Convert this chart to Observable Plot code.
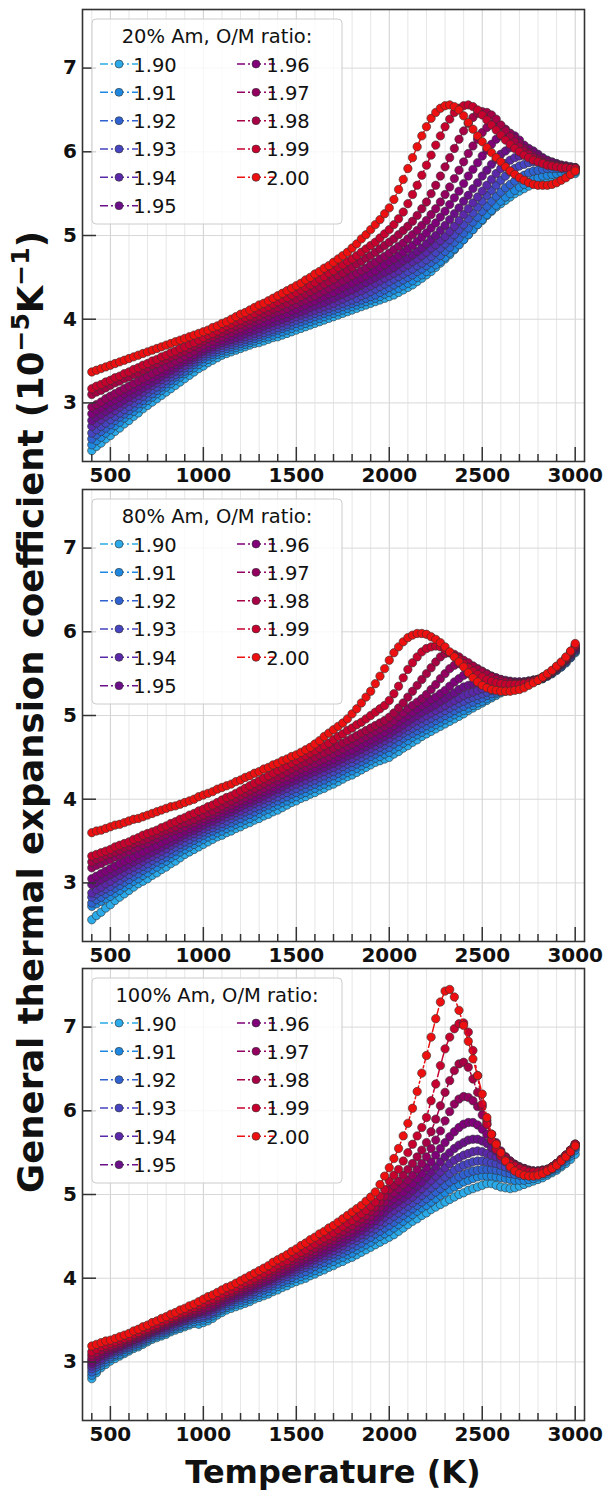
<!DOCTYPE html>
<html>
<head>
<meta charset="utf-8">
<script src="https://cdn.jsdelivr.net/npm/d3@7"></script>
<script src="https://cdn.jsdelivr.net/npm/@observablehq/plot@0.6"></script>
<style>
  html, body { margin: 0; padding: 0; background: #fff; }
  #figure { position: relative; width: 606px; height: 1492px; overflow: hidden; font-family: "DejaVu Sans", sans-serif; }
  #figure > svg { position: absolute; left: 0; }
</style>
</head>
<body>
<div id="figure"></div>
<script>
// Temperature grid (K)
const temperatures = [
  400,425,450,475,500,525,550,575,600,625,650,675,700,725,750,775,800,825,850,875,
  900,925,950,975,1000,1025,1050,1075,1100,1125,1150,1175,1200,1225,1250,1275,1300,1325,1350,1375,
  1400,1425,1450,1475,1500,1525,1550,1575,1600,1625,1650,1675,1700,1725,1750,1775,1800,1825,1850,1875,
  1900,1925,1950,1975,2000,2025,2050,2075,2100,2125,2150,2175,2200,2225,2250,2275,2300,2325,2350,2375,
  2400,2425,2450,2475,2500,2525,2550,2575,2600,2625,2650,2675,2700,2725,2750,2775,2800,2825,2850,2875,
  2900,2925,2950,2975,3000
];

const ratios = ["1.90","1.91","1.92","1.93","1.94","1.95","1.96","1.97","1.98","1.99","2.00"];
const ratioColors = ["#2aaae8","#1e88e0","#2f62d0","#4644c0","#5a28a8","#6b0f88","#80007a","#930060","#a80045","#c8002e","#ee1010"];
const panelTitles = ["20% Am, O/M ratio:", "80% Am, O/M ratio:", "100% Am, O/M ratio:"];

const xMajorTicks = [500,1000,1500,2000,2500,3000];
const xMinorTicks = [400,600,700,800,900,1100,1200,1300,1400,1600,1700,1800,1900,2100,2200,2300,2400,2600,2700,2800,2900];
const yTicks = [3,4,5,6,7];

// Thermal expansion coefficient (1e-5 / K), 20% Am
const am20_190 = [2.43,2.48,2.52,2.57,2.61,2.66,2.70,2.75,2.79,2.84,2.88,2.93,2.97,3.01,3.05,3.09,3.13,3.17,3.21,3.25,
  3.29,3.33,3.37,3.41,3.44,3.48,3.51,3.54,3.57,3.59,3.61,3.63,3.65,3.67,3.69,3.71,3.72,3.74,3.76,3.78,
  3.79,3.81,3.83,3.85,3.87,3.89,3.91,3.93,3.95,3.97,3.99,4.01,4.03,4.05,4.07,4.09,4.11,4.13,4.15,4.17,
  4.19,4.21,4.23,4.25,4.27,4.29,4.32,4.35,4.38,4.41,4.45,4.49,4.53,4.57,4.62,4.67,4.72,4.77,4.83,4.89,
  4.95,5.01,5.07,5.13,5.18,5.24,5.29,5.34,5.38,5.42,5.46,5.50,5.53,5.56,5.59,5.62,5.64,5.66,5.68,5.69,
  5.70,5.71,5.72,5.73,5.74];
const am20_191 = [2.50,2.55,2.59,2.64,2.68,2.73,2.77,2.82,2.86,2.90,2.94,2.99,3.03,3.07,3.11,3.15,3.19,3.23,3.27,3.31,
  3.35,3.39,3.42,3.46,3.49,3.52,3.55,3.58,3.60,3.62,3.64,3.66,3.68,3.70,3.72,3.74,3.76,3.78,3.79,3.81,
  3.83,3.85,3.87,3.89,3.91,3.93,3.95,3.97,3.99,4.01,4.03,4.05,4.07,4.09,4.11,4.13,4.15,4.17,4.19,4.21,
  4.23,4.25,4.27,4.30,4.32,4.35,4.37,4.40,4.43,4.46,4.50,4.53,4.57,4.61,4.65,4.69,4.74,4.79,4.84,4.89,
  4.95,5.01,5.07,5.13,5.19,5.25,5.30,5.36,5.41,5.46,5.50,5.54,5.58,5.61,5.64,5.67,5.69,5.71,5.72,5.73,
  5.74,5.75,5.75,5.76,5.76];
const am20_192 = [2.57,2.62,2.66,2.70,2.74,2.79,2.83,2.87,2.91,2.95,2.99,3.03,3.07,3.11,3.15,3.19,3.23,3.27,3.31,3.35,
  3.38,3.42,3.46,3.50,3.53,3.56,3.58,3.61,3.63,3.65,3.67,3.69,3.71,3.73,3.75,3.77,3.79,3.81,3.83,3.85,
  3.87,3.89,3.91,3.93,3.95,3.97,3.99,4.01,4.03,4.05,4.07,4.09,4.11,4.13,4.15,4.17,4.19,4.21,4.23,4.25,
  4.27,4.29,4.32,4.35,4.38,4.41,4.44,4.47,4.50,4.53,4.57,4.60,4.64,4.68,4.72,4.76,4.81,4.86,4.92,4.97,
  5.03,5.09,5.16,5.22,5.29,5.35,5.41,5.47,5.52,5.57,5.61,5.65,5.69,5.72,5.75,5.77,5.78,5.79,5.80,5.80,
  5.80,5.80,5.79,5.79,5.78];
const am20_193 = [2.64,2.68,2.72,2.76,2.80,2.84,2.88,2.92,2.96,3.00,3.04,3.08,3.12,3.16,3.19,3.23,3.27,3.31,3.34,3.38,
  3.42,3.46,3.49,3.53,3.56,3.59,3.61,3.64,3.66,3.68,3.70,3.72,3.74,3.76,3.78,3.80,3.82,3.84,3.86,3.88,
  3.90,3.92,3.94,3.97,3.99,4.01,4.03,4.05,4.07,4.09,4.11,4.13,4.15,4.17,4.19,4.21,4.23,4.25,4.28,4.30,
  4.33,4.36,4.39,4.42,4.45,4.48,4.51,4.54,4.57,4.60,4.64,4.67,4.71,4.75,4.80,4.85,4.90,4.95,5.01,5.07,
  5.13,5.20,5.27,5.34,5.41,5.48,5.54,5.60,5.66,5.71,5.76,5.80,5.83,5.85,5.87,5.88,5.88,5.87,5.86,5.85,
  5.84,5.83,5.81,5.80,5.79];
const am20_194 = [2.72,2.76,2.80,2.84,2.87,2.91,2.95,2.99,3.02,3.06,3.09,3.13,3.17,3.21,3.24,3.28,3.31,3.35,3.38,3.42,
  3.45,3.49,3.52,3.56,3.59,3.62,3.64,3.67,3.69,3.71,3.73,3.75,3.77,3.79,3.81,3.83,3.85,3.88,3.90,3.92,
  3.94,3.96,3.98,4.01,4.03,4.05,4.07,4.09,4.11,4.13,4.15,4.17,4.19,4.22,4.24,4.27,4.29,4.32,4.34,4.37,
  4.40,4.43,4.46,4.49,4.52,4.55,4.58,4.62,4.65,4.69,4.72,4.76,4.80,4.85,4.89,4.94,4.99,5.05,5.11,5.18,
  5.25,5.32,5.39,5.46,5.53,5.60,5.67,5.74,5.80,5.86,5.90,5.93,5.95,5.96,5.96,5.95,5.94,5.92,5.89,5.87,
  5.85,5.83,5.82,5.81,5.80];
const am20_195 = [2.79,2.83,2.86,2.90,2.93,2.97,3.00,3.04,3.07,3.11,3.14,3.18,3.21,3.25,3.28,3.32,3.35,3.39,3.42,3.46,
  3.49,3.52,3.55,3.59,3.62,3.65,3.67,3.70,3.72,3.74,3.76,3.78,3.80,3.83,3.85,3.87,3.89,3.92,3.94,3.96,
  3.98,4.00,4.02,4.05,4.07,4.09,4.11,4.14,4.16,4.18,4.20,4.23,4.25,4.28,4.30,4.33,4.35,4.38,4.41,4.44,
  4.47,4.50,4.53,4.56,4.59,4.62,4.66,4.70,4.73,4.77,4.81,4.85,4.90,4.95,5.00,5.06,5.12,5.19,5.26,5.33,
  5.41,5.48,5.56,5.63,5.71,5.78,5.85,5.91,5.97,6.01,6.05,6.07,6.08,6.07,6.04,6.01,5.97,5.93,5.90,5.88,
  5.86,5.84,5.83,5.82,5.81];
const am20_196 = [2.87,2.91,2.94,2.98,3.01,3.04,3.07,3.11,3.14,3.17,3.20,3.24,3.27,3.30,3.33,3.36,3.39,3.43,3.46,3.49,
  3.52,3.55,3.58,3.62,3.65,3.68,3.70,3.73,3.75,3.78,3.80,3.83,3.85,3.87,3.89,3.92,3.94,3.96,3.98,4.01,
  4.03,4.05,4.07,4.10,4.12,4.15,4.17,4.20,4.22,4.25,4.27,4.30,4.32,4.35,4.38,4.41,4.43,4.46,4.49,4.52,
  4.55,4.58,4.62,4.65,4.69,4.72,4.76,4.80,4.84,4.88,4.93,4.98,5.03,5.09,5.15,5.22,5.29,5.37,5.45,5.53,
  5.62,5.71,5.79,5.87,5.95,6.02,6.09,6.15,6.19,6.21,6.22,6.19,6.14,6.08,6.03,5.99,5.95,5.92,5.89,5.87,
  5.85,5.84,5.83,5.82,5.81];
const am20_197 = [2.95,2.98,3.01,3.05,3.08,3.11,3.14,3.17,3.20,3.23,3.26,3.29,3.32,3.35,3.38,3.41,3.44,3.47,3.50,3.53,
  3.56,3.59,3.62,3.66,3.69,3.72,3.74,3.77,3.79,3.82,3.84,3.87,3.89,3.92,3.94,3.97,3.99,4.02,4.04,4.07,
  4.09,4.11,4.13,4.16,4.18,4.21,4.23,4.26,4.28,4.31,4.34,4.37,4.40,4.43,4.46,4.49,4.52,4.55,4.58,4.61,
  4.65,4.68,4.72,4.75,4.79,4.83,4.87,4.91,4.96,5.01,5.06,5.12,5.18,5.25,5.32,5.40,5.49,5.58,5.68,5.78,
  5.88,5.98,6.07,6.15,6.23,6.29,6.33,6.33,6.31,6.27,6.22,6.16,6.10,6.04,5.99,5.95,5.92,5.89,5.87,5.85,
  5.84,5.83,5.82,5.81,5.81];
const am20_198 = [3.10,3.13,3.15,3.18,3.21,3.24,3.26,3.29,3.31,3.34,3.36,3.39,3.42,3.45,3.47,3.50,3.52,3.55,3.57,3.60,
  3.62,3.65,3.68,3.71,3.74,3.77,3.79,3.82,3.84,3.87,3.89,3.92,3.94,3.97,3.99,4.02,4.04,4.07,4.09,4.12,
  4.14,4.17,4.19,4.22,4.24,4.27,4.30,4.33,4.36,4.39,4.42,4.45,4.48,4.52,4.55,4.59,4.62,4.66,4.69,4.73,
  4.76,4.80,4.84,4.88,4.92,4.96,5.01,5.06,5.11,5.17,5.24,5.32,5.40,5.50,5.60,5.71,5.82,5.93,6.04,6.15,
  6.25,6.34,6.41,6.46,6.48,6.47,6.44,6.39,6.32,6.25,6.18,6.12,6.06,6.01,5.97,5.93,5.90,5.87,5.85,5.84,
  5.83,5.82,5.81,5.80,5.80];
const am20_199 = [3.17,3.20,3.22,3.25,3.27,3.30,3.32,3.35,3.37,3.40,3.42,3.45,3.47,3.50,3.52,3.55,3.57,3.60,3.62,3.65,
  3.67,3.70,3.72,3.75,3.78,3.81,3.83,3.86,3.89,3.92,3.94,3.97,3.99,4.02,4.04,4.07,4.10,4.13,4.15,4.18,
  4.21,4.24,4.26,4.29,4.32,4.35,4.38,4.41,4.44,4.48,4.51,4.55,4.58,4.62,4.65,4.69,4.72,4.76,4.80,4.84,
  4.88,4.92,4.97,5.02,5.07,5.13,5.20,5.28,5.38,5.49,5.60,5.72,5.84,5.96,6.08,6.19,6.30,6.39,6.47,6.52,
  6.55,6.56,6.54,6.50,6.44,6.38,6.32,6.26,6.20,6.14,6.09,6.04,6.00,5.96,5.93,5.90,5.88,5.86,5.84,5.83,
  5.82,5.81,5.81,5.80,5.80];
const am20_200 = [3.37,3.39,3.41,3.43,3.45,3.47,3.49,3.51,3.53,3.55,3.57,3.59,3.61,3.63,3.65,3.67,3.69,3.71,3.73,3.75,
  3.77,3.79,3.81,3.83,3.85,3.87,3.90,3.92,3.95,3.97,4.00,4.03,4.06,4.08,4.11,4.14,4.17,4.19,4.22,4.25,
  4.28,4.31,4.34,4.37,4.40,4.43,4.47,4.50,4.54,4.57,4.61,4.64,4.68,4.72,4.76,4.80,4.85,4.90,4.96,5.01,
  5.07,5.13,5.19,5.26,5.33,5.43,5.55,5.67,5.80,5.93,6.06,6.19,6.30,6.40,6.47,6.52,6.55,6.56,6.54,6.50,
  6.43,6.35,6.27,6.19,6.12,6.05,5.99,5.93,5.88,5.82,5.77,5.73,5.69,5.66,5.63,5.61,5.60,5.60,5.60,5.61,
  5.63,5.66,5.69,5.73,5.77];

// 80% Am
const am80_190 = [2.56,2.61,2.65,2.70,2.74,2.79,2.83,2.87,2.91,2.95,2.99,3.02,3.05,3.09,3.12,3.16,3.19,3.23,3.26,3.30,
  3.34,3.37,3.40,3.43,3.46,3.49,3.52,3.55,3.57,3.60,3.62,3.65,3.67,3.70,3.72,3.75,3.77,3.80,3.82,3.85,
  3.87,3.90,3.93,3.96,3.98,4.01,4.03,4.06,4.08,4.11,4.13,4.16,4.18,4.21,4.24,4.27,4.29,4.32,4.35,4.38,
  4.41,4.44,4.46,4.48,4.50,4.54,4.57,4.61,4.64,4.68,4.71,4.75,4.78,4.81,4.84,4.87,4.90,4.93,4.96,4.99,
  5.02,5.06,5.09,5.12,5.15,5.18,5.21,5.24,5.27,5.29,5.31,5.33,5.35,5.37,5.38,5.40,5.42,5.44,5.47,5.50,
  5.54,5.58,5.63,5.69,5.75];
const am80_191 = [2.72,2.75,2.78,2.81,2.84,2.88,2.91,2.95,2.98,3.02,3.05,3.09,3.12,3.16,3.19,3.23,3.26,3.30,3.33,3.37,
  3.40,3.43,3.46,3.49,3.52,3.55,3.57,3.60,3.62,3.65,3.67,3.70,3.72,3.75,3.77,3.80,3.83,3.86,3.88,3.91,
  3.93,3.96,3.98,4.01,4.03,4.06,4.08,4.11,4.13,4.16,4.18,4.21,4.23,4.26,4.29,4.32,4.34,4.37,4.40,4.43,
  4.46,4.49,4.51,4.54,4.56,4.60,4.63,4.67,4.70,4.74,4.77,4.80,4.83,4.86,4.89,4.92,4.95,4.98,5.01,5.04,
  5.06,5.09,5.12,5.15,5.17,5.20,5.23,5.26,5.28,5.30,5.32,5.34,5.36,5.38,5.39,5.41,5.42,5.44,5.47,5.50,
  5.54,5.58,5.63,5.69,5.76];
const am80_192 = [2.76,2.80,2.83,2.87,2.90,2.94,2.97,3.01,3.04,3.08,3.11,3.15,3.18,3.22,3.25,3.28,3.31,3.35,3.38,3.42,
  3.45,3.48,3.51,3.54,3.57,3.60,3.62,3.65,3.67,3.70,3.72,3.75,3.77,3.80,3.82,3.85,3.88,3.91,3.93,3.96,
  3.98,4.01,4.03,4.06,4.08,4.11,4.13,4.16,4.18,4.21,4.23,4.26,4.28,4.31,4.34,4.37,4.39,4.42,4.45,4.48,
  4.51,4.54,4.57,4.60,4.62,4.66,4.69,4.73,4.76,4.79,4.82,4.85,4.88,4.91,4.94,4.97,5.00,5.03,5.06,5.09,
  5.11,5.14,5.16,5.19,5.21,5.24,5.26,5.28,5.30,5.32,5.34,5.36,5.37,5.39,5.40,5.42,5.43,5.45,5.48,5.51,
  5.55,5.59,5.64,5.70,5.77];
const am80_193 = [2.83,2.87,2.90,2.93,2.96,3.00,3.03,3.07,3.10,3.14,3.17,3.20,3.23,3.27,3.30,3.33,3.36,3.40,3.43,3.46,
  3.49,3.52,3.55,3.58,3.61,3.64,3.66,3.69,3.71,3.74,3.77,3.80,3.82,3.85,3.87,3.90,3.92,3.95,3.98,4.01,
  4.03,4.06,4.08,4.11,4.13,4.16,4.18,4.21,4.23,4.26,4.28,4.31,4.33,4.36,4.39,4.42,4.44,4.47,4.50,4.53,
  4.56,4.59,4.62,4.65,4.68,4.72,4.75,4.79,4.82,4.85,4.88,4.91,4.94,4.97,5.00,5.03,5.06,5.09,5.12,5.15,
  5.17,5.20,5.22,5.24,5.26,5.28,5.30,5.32,5.33,5.35,5.36,5.37,5.38,5.39,5.40,5.42,5.43,5.45,5.48,5.51,
  5.55,5.60,5.65,5.71,5.78];
const am80_194 = [2.88,2.92,2.95,2.99,3.02,3.06,3.09,3.13,3.16,3.19,3.22,3.26,3.29,3.32,3.35,3.38,3.41,3.45,3.48,3.51,
  3.54,3.57,3.59,3.62,3.65,3.68,3.70,3.73,3.76,3.79,3.81,3.84,3.86,3.89,3.92,3.95,3.97,4.00,4.02,4.05,
  4.08,4.11,4.13,4.16,4.18,4.21,4.23,4.26,4.28,4.31,4.33,4.36,4.38,4.41,4.44,4.47,4.49,4.52,4.55,4.58,
  4.61,4.64,4.67,4.70,4.73,4.77,4.80,4.84,4.87,4.91,4.94,4.97,5.00,5.03,5.06,5.09,5.12,5.15,5.18,5.21,
  5.24,5.26,5.28,5.30,5.32,5.34,5.35,5.36,5.36,5.37,5.38,5.39,5.39,5.40,5.41,5.42,5.43,5.45,5.48,5.52,
  5.56,5.61,5.66,5.72,5.79];
const am80_195 = [2.98,3.01,3.04,3.07,3.10,3.13,3.16,3.19,3.22,3.25,3.28,3.31,3.34,3.37,3.40,3.43,3.46,3.49,3.52,3.55,
  3.58,3.61,3.63,3.66,3.69,3.72,3.74,3.77,3.80,3.83,3.85,3.88,3.91,3.94,3.96,3.99,4.01,4.04,4.07,4.10,
  4.12,4.15,4.18,4.21,4.23,4.26,4.28,4.31,4.33,4.36,4.38,4.41,4.43,4.46,4.49,4.52,4.54,4.57,4.60,4.63,
  4.66,4.69,4.72,4.75,4.78,4.82,4.85,4.89,4.93,4.97,5.00,5.04,5.07,5.10,5.13,5.17,5.20,5.24,5.27,5.31,
  5.34,5.36,5.38,5.39,5.40,5.40,5.40,5.40,5.40,5.40,5.40,5.40,5.40,5.40,5.41,5.42,5.43,5.45,5.48,5.52,
  5.56,5.61,5.66,5.73,5.80];
const am80_196 = [3.05,3.08,3.11,3.14,3.17,3.20,3.23,3.26,3.28,3.31,3.34,3.37,3.40,3.43,3.45,3.48,3.51,3.54,3.56,3.59,
  3.62,3.65,3.67,3.70,3.73,3.76,3.78,3.81,3.84,3.87,3.89,3.92,3.95,3.98,4.00,4.03,4.06,4.09,4.11,4.14,
  4.17,4.20,4.22,4.25,4.28,4.31,4.33,4.36,4.38,4.41,4.43,4.46,4.48,4.51,4.54,4.57,4.59,4.62,4.65,4.68,
  4.71,4.74,4.77,4.80,4.84,4.88,4.92,4.96,5.00,5.04,5.08,5.12,5.15,5.19,5.22,5.26,5.30,5.35,5.40,5.44,
  5.48,5.50,5.51,5.51,5.50,5.49,5.47,5.45,5.43,5.42,5.41,5.40,5.40,5.40,5.41,5.42,5.43,5.45,5.48,5.52,
  5.57,5.62,5.67,5.74,5.81];
const am80_197 = [3.18,3.21,3.23,3.26,3.28,3.31,3.33,3.36,3.38,3.41,3.43,3.46,3.48,3.51,3.53,3.56,3.58,3.61,3.63,3.65,
  3.67,3.70,3.72,3.75,3.77,3.80,3.82,3.85,3.88,3.91,3.93,3.96,3.99,4.02,4.05,4.08,4.10,4.13,4.16,4.19,
  4.22,4.25,4.27,4.30,4.33,4.36,4.38,4.41,4.43,4.46,4.48,4.51,4.54,4.57,4.60,4.63,4.66,4.69,4.72,4.75,
  4.78,4.81,4.84,4.87,4.90,4.94,4.99,5.03,5.08,5.12,5.16,5.20,5.25,5.31,5.37,5.44,5.50,5.56,5.60,5.62,
  5.62,5.61,5.59,5.56,5.53,5.50,5.47,5.45,5.43,5.41,5.40,5.39,5.39,5.39,5.40,5.41,5.43,5.45,5.48,5.52,
  5.57,5.62,5.67,5.74,5.82];
const am80_198 = [3.25,3.28,3.30,3.33,3.35,3.37,3.39,3.42,3.44,3.47,3.49,3.51,3.53,3.56,3.58,3.61,3.63,3.65,3.67,3.70,
  3.72,3.74,3.76,3.79,3.81,3.84,3.86,3.89,3.92,3.95,3.98,4.01,4.04,4.07,4.10,4.13,4.16,4.19,4.22,4.25,
  4.27,4.30,4.33,4.36,4.39,4.42,4.44,4.47,4.50,4.53,4.55,4.58,4.61,4.64,4.67,4.70,4.73,4.76,4.79,4.82,
  4.85,4.88,4.91,4.94,4.98,5.03,5.09,5.15,5.22,5.29,5.36,5.43,5.50,5.57,5.64,5.70,5.74,5.75,5.73,5.70,
  5.66,5.63,5.59,5.55,5.52,5.49,5.46,5.43,5.41,5.40,5.39,5.38,5.38,5.39,5.40,5.41,5.43,5.46,5.49,5.53,
  5.58,5.63,5.68,5.75,5.83];
const am80_199 = [3.32,3.34,3.36,3.38,3.40,3.43,3.45,3.47,3.49,3.52,3.54,3.57,3.59,3.61,3.63,3.66,3.68,3.71,3.73,3.76,
  3.78,3.81,3.83,3.86,3.88,3.91,3.93,3.96,3.99,4.02,4.04,4.07,4.10,4.13,4.16,4.19,4.22,4.25,4.28,4.31,
  4.34,4.37,4.40,4.43,4.46,4.49,4.52,4.55,4.58,4.61,4.64,4.67,4.71,4.75,4.78,4.82,4.85,4.89,4.92,4.96,
  5.00,5.04,5.08,5.12,5.18,5.26,5.35,5.45,5.55,5.63,5.70,5.76,5.80,5.82,5.83,5.82,5.79,5.75,5.71,5.67,
  5.62,5.57,5.53,5.49,5.46,5.43,5.41,5.39,5.38,5.37,5.37,5.37,5.37,5.38,5.39,5.41,5.43,5.46,5.49,5.53,
  5.58,5.63,5.69,5.76,5.84];
const am80_200 = [3.60,3.62,3.63,3.65,3.67,3.69,3.70,3.72,3.74,3.76,3.77,3.79,3.81,3.83,3.85,3.87,3.89,3.91,3.92,3.94,
  3.96,3.98,4.00,4.03,4.05,4.07,4.09,4.12,4.14,4.16,4.18,4.21,4.23,4.26,4.28,4.31,4.33,4.36,4.38,4.41,
  4.43,4.46,4.48,4.51,4.53,4.56,4.59,4.62,4.66,4.70,4.75,4.79,4.83,4.87,4.91,4.96,5.02,5.08,5.15,5.22,
  5.29,5.38,5.47,5.56,5.66,5.75,5.82,5.88,5.93,5.96,5.98,5.98,5.97,5.94,5.91,5.87,5.82,5.76,5.70,5.64,
  5.58,5.51,5.45,5.40,5.36,5.33,5.31,5.30,5.29,5.29,5.29,5.30,5.31,5.33,5.36,5.39,5.42,5.46,5.50,5.54,
  5.59,5.64,5.70,5.77,5.86];

// 100% Am
const am100_190 = [2.80,2.87,2.93,2.97,3.01,3.04,3.07,3.10,3.13,3.16,3.18,3.21,3.24,3.27,3.29,3.31,3.33,3.36,3.38,3.40,
  3.42,3.44,3.46,3.45,3.47,3.49,3.52,3.56,3.59,3.62,3.64,3.66,3.68,3.70,3.72,3.75,3.77,3.79,3.81,3.84,
  3.86,3.89,3.91,3.94,3.96,3.98,4.00,4.03,4.05,4.08,4.10,4.13,4.15,4.18,4.20,4.23,4.25,4.28,4.31,4.34,
  4.37,4.40,4.43,4.46,4.49,4.52,4.56,4.60,4.64,4.68,4.71,4.75,4.78,4.82,4.85,4.88,4.91,4.94,4.97,5.00,
  5.02,5.05,5.07,5.09,5.11,5.13,5.13,5.11,5.09,5.08,5.07,5.08,5.10,5.12,5.14,5.16,5.18,5.20,5.23,5.26,
  5.29,5.33,5.37,5.42,5.48];
const am100_191 = [2.84,2.90,2.96,3.00,3.04,3.07,3.09,3.12,3.15,3.18,3.20,3.23,3.26,3.29,3.31,3.33,3.35,3.38,3.40,3.42,
  3.44,3.46,3.48,3.49,3.50,3.52,3.55,3.59,3.62,3.65,3.67,3.69,3.71,3.73,3.75,3.78,3.80,3.82,3.84,3.87,
  3.90,3.93,3.95,3.98,4.00,4.02,4.04,4.07,4.09,4.12,4.15,4.18,4.20,4.23,4.25,4.28,4.30,4.34,4.37,4.40,
  4.43,4.47,4.50,4.53,4.56,4.60,4.64,4.68,4.72,4.76,4.80,4.84,4.87,4.91,4.95,4.99,5.02,5.06,5.09,5.12,
  5.15,5.17,5.19,5.21,5.22,5.22,5.22,5.21,5.20,5.19,5.18,5.17,5.17,5.17,5.18,5.19,5.21,5.23,5.25,5.28,
  5.31,5.35,5.40,5.46,5.53];
const am100_192 = [2.88,2.94,2.99,3.03,3.06,3.09,3.12,3.15,3.17,3.20,3.22,3.25,3.28,3.31,3.33,3.35,3.37,3.40,3.42,3.44,
  3.46,3.49,3.51,3.52,3.53,3.55,3.58,3.61,3.64,3.67,3.69,3.72,3.74,3.76,3.78,3.81,3.83,3.86,3.88,3.91,
  3.93,3.96,3.98,4.01,4.04,4.06,4.08,4.11,4.14,4.17,4.19,4.22,4.25,4.28,4.30,4.33,4.36,4.39,4.42,4.46,
  4.49,4.53,4.56,4.60,4.63,4.67,4.71,4.75,4.79,4.83,4.87,4.91,4.95,4.99,5.03,5.07,5.11,5.15,5.18,5.21,
  5.24,5.26,5.28,5.29,5.30,5.30,5.30,5.29,5.28,5.26,5.25,5.24,5.23,5.23,5.23,5.23,5.24,5.25,5.27,5.30,
  5.33,5.38,5.43,5.49,5.56];
const am100_193 = [2.92,2.97,3.02,3.06,3.09,3.12,3.14,3.17,3.19,3.22,3.24,3.27,3.30,3.33,3.35,3.37,3.39,3.42,3.44,3.47,
  3.49,3.51,3.53,3.54,3.55,3.57,3.60,3.64,3.67,3.70,3.72,3.75,3.77,3.79,3.81,3.84,3.87,3.89,3.91,3.94,
  3.97,4.00,4.02,4.05,4.08,4.11,4.13,4.16,4.18,4.21,4.24,4.27,4.29,4.32,4.35,4.38,4.41,4.45,4.48,4.52,
  4.55,4.59,4.63,4.67,4.70,4.74,4.78,4.82,4.86,4.90,4.94,4.99,5.03,5.08,5.12,5.17,5.21,5.25,5.29,5.32,
  5.35,5.37,5.39,5.40,5.40,5.39,5.38,5.37,5.35,5.33,5.31,5.30,5.28,5.27,5.26,5.26,5.26,5.27,5.28,5.31,
  5.35,5.40,5.45,5.51,5.58];
const am100_194 = [2.95,3.00,3.04,3.08,3.11,3.14,3.16,3.19,3.21,3.24,3.26,3.29,3.32,3.35,3.37,3.39,3.41,3.44,3.46,3.48,
  3.50,3.53,3.55,3.57,3.58,3.60,3.63,3.66,3.69,3.72,3.74,3.77,3.79,3.82,3.84,3.87,3.89,3.92,3.94,3.97,
  4.00,4.03,4.05,4.08,4.11,4.14,4.16,4.19,4.22,4.25,4.27,4.30,4.33,4.36,4.39,4.43,4.46,4.49,4.52,4.56,
  4.60,4.64,4.68,4.73,4.77,4.81,4.85,4.89,4.93,4.97,5.02,5.07,5.12,5.17,5.22,5.27,5.32,5.37,5.41,5.44,
  5.47,5.49,5.51,5.52,5.51,5.49,5.47,5.45,5.42,5.39,5.36,5.33,5.31,5.29,5.28,5.27,5.27,5.28,5.29,5.32,
  5.36,5.41,5.46,5.52,5.59];
const am100_195 = [2.98,3.03,3.07,3.10,3.13,3.16,3.18,3.21,3.23,3.26,3.28,3.31,3.33,3.36,3.38,3.41,3.43,3.46,3.48,3.50,
  3.52,3.55,3.57,3.59,3.60,3.62,3.65,3.68,3.71,3.74,3.76,3.79,3.81,3.84,3.86,3.89,3.92,3.95,3.97,4.00,
  4.03,4.06,4.08,4.11,4.14,4.17,4.19,4.22,4.25,4.28,4.31,4.34,4.37,4.40,4.43,4.47,4.50,4.54,4.57,4.61,
  4.65,4.69,4.74,4.79,4.84,4.88,4.92,4.96,5.00,5.05,5.10,5.15,5.21,5.27,5.33,5.39,5.45,5.50,5.55,5.59,
  5.62,5.65,5.66,5.66,5.64,5.61,5.56,5.52,5.47,5.43,5.39,5.36,5.33,5.31,5.29,5.28,5.28,5.29,5.30,5.33,
  5.36,5.41,5.46,5.52,5.59];
const am100_196 = [3.01,3.05,3.09,3.12,3.15,3.17,3.19,3.22,3.24,3.27,3.29,3.32,3.35,3.38,3.40,3.42,3.44,3.47,3.49,3.52,
  3.54,3.56,3.58,3.60,3.62,3.65,3.67,3.70,3.74,3.77,3.79,3.82,3.84,3.87,3.89,3.92,3.94,3.97,3.99,4.02,
  4.05,4.08,4.11,4.14,4.17,4.20,4.23,4.26,4.29,4.32,4.35,4.38,4.41,4.45,4.48,4.51,4.54,4.58,4.61,4.65,
  4.69,4.74,4.79,4.85,4.91,4.95,4.99,5.03,5.08,5.13,5.19,5.25,5.32,5.39,5.47,5.55,5.62,5.69,5.75,5.80,
  5.84,5.86,5.86,5.83,5.78,5.72,5.64,5.57,5.50,5.45,5.40,5.36,5.33,5.31,5.29,5.28,5.28,5.29,5.30,5.33,
  5.37,5.42,5.47,5.53,5.60];
const am100_197 = [3.04,3.08,3.12,3.15,3.17,3.19,3.21,3.24,3.26,3.29,3.31,3.34,3.36,3.39,3.41,3.44,3.46,3.49,3.51,3.54,
  3.56,3.58,3.60,3.62,3.64,3.66,3.69,3.72,3.76,3.79,3.81,3.84,3.86,3.89,3.91,3.94,3.97,4.00,4.02,4.05,
  4.08,4.11,4.14,4.17,4.20,4.23,4.26,4.29,4.32,4.36,4.39,4.42,4.45,4.49,4.52,4.55,4.58,4.62,4.66,4.70,
  4.74,4.79,4.85,4.91,4.98,5.02,5.07,5.12,5.17,5.23,5.30,5.37,5.45,5.55,5.65,5.76,5.88,5.99,6.08,6.14,
  6.17,6.16,6.12,6.05,5.95,5.84,5.72,5.62,5.52,5.45,5.40,5.36,5.33,5.31,5.29,5.28,5.28,5.29,5.30,5.33,
  5.37,5.42,5.47,5.53,5.60];
const am100_198 = [3.08,3.11,3.14,3.17,3.19,3.21,3.23,3.26,3.28,3.31,3.33,3.36,3.38,3.41,3.43,3.46,3.48,3.51,3.53,3.56,
  3.58,3.60,3.62,3.65,3.67,3.70,3.72,3.75,3.78,3.81,3.83,3.86,3.89,3.92,3.94,3.97,4.00,4.03,4.05,4.09,
  4.12,4.15,4.17,4.21,4.24,4.27,4.30,4.33,4.36,4.40,4.43,4.46,4.49,4.53,4.56,4.60,4.63,4.67,4.71,4.75,
  4.80,4.85,4.91,4.98,5.06,5.11,5.16,5.23,5.30,5.37,5.45,5.53,5.62,5.75,5.90,6.06,6.22,6.36,6.48,6.56,
  6.58,6.52,6.38,6.22,6.05,5.88,5.72,5.60,5.50,5.44,5.38,5.35,5.32,5.30,5.28,5.27,5.27,5.28,5.30,5.33,
  5.37,5.42,5.47,5.53,5.60];
const am100_199 = [3.12,3.15,3.18,3.20,3.22,3.24,3.26,3.28,3.30,3.33,3.35,3.38,3.40,3.43,3.45,3.48,3.50,3.53,3.55,3.58,
  3.60,3.63,3.65,3.68,3.70,3.73,3.75,3.78,3.81,3.84,3.86,3.89,3.92,3.95,3.97,4.00,4.03,4.06,4.09,4.12,
  4.16,4.19,4.21,4.25,4.28,4.31,4.34,4.38,4.41,4.45,4.48,4.51,4.54,4.58,4.62,4.66,4.69,4.73,4.77,4.81,
  4.86,4.91,4.98,5.06,5.16,5.23,5.30,5.40,5.50,5.60,5.70,5.80,5.92,6.12,6.32,6.54,6.74,6.88,6.98,7.04,
  7.05,6.94,6.72,6.42,6.08,5.84,5.65,5.54,5.46,5.41,5.37,5.34,5.31,5.29,5.27,5.27,5.27,5.28,5.30,5.33,
  5.37,5.42,5.47,5.53,5.60];
const am100_200 = [3.19,3.21,3.23,3.25,3.26,3.28,3.30,3.32,3.34,3.37,3.39,3.42,3.44,3.47,3.49,3.52,3.54,3.57,3.59,3.62,
  3.64,3.67,3.69,3.72,3.75,3.78,3.80,3.83,3.86,3.89,3.91,3.94,3.97,4.00,4.03,4.06,4.09,4.12,4.15,4.19,
  4.22,4.25,4.28,4.32,4.35,4.39,4.42,4.46,4.49,4.53,4.56,4.60,4.63,4.67,4.71,4.75,4.79,4.83,4.87,4.92,
  4.97,5.03,5.12,5.22,5.32,5.43,5.55,5.70,5.85,6.03,6.23,6.45,6.66,6.88,7.10,7.30,7.43,7.45,7.36,7.20,
  7.02,6.83,6.62,6.42,6.20,5.92,5.72,5.60,5.50,5.40,5.33,5.28,5.25,5.23,5.22,5.22,5.23,5.25,5.28,5.31,
  5.35,5.40,5.45,5.51,5.58];

const panelSeries = [
  [am20_190, am20_191, am20_192, am20_193, am20_194, am20_195, am20_196, am20_197, am20_198, am20_199, am20_200],
  [am80_190, am80_191, am80_192, am80_193, am80_194, am80_195, am80_196, am80_197, am80_198, am80_199, am80_200],
  [am100_190, am100_191, am100_192, am100_193, am100_194, am100_195, am100_196, am100_197, am100_198, am100_199, am100_200]
];

const W = 606, H = 480, mTop = 9, mBottom = 19, mLeft = 82, mRight = 22;
const frameW = W - mLeft - mRight, frameH = H - mTop - mBottom;
const panelTops = [0, 480, 959];
const dashDot = "8,3,2,3";

// In-axes legend: two columns of dash-dot handles with markers
function legend(title) {
  return () => {
    const g = d3.create("svg:g").attr("font-family", "DejaVu Sans").attr("font-size", 19.5).attr("fill", "#111");
    g.append("rect").attr("x", 92).attr("y", 19).attr("width", 250).attr("height", 205).attr("rx", 4)
      .attr("fill", "white").attr("fill-opacity", 0.8).attr("stroke", "#cccccc").attr("stroke-width", 1);
    g.append("text").attr("x", 217).attr("y", 42.7).attr("text-anchor", "middle").text(title);
    ratios.forEach((r, i) => {
      const col = i < 6 ? 0 : 1, row = i < 6 ? i : i - 6;
      const x0 = col ? 237 : 100, cy = 64 + row * 28.33;
      g.append("line").attr("x1", x0).attr("x2", x0 + 38).attr("y1", cy).attr("y2", cy)
        .attr("stroke", ratioColors[i]).attr("stroke-width", 1.5).attr("stroke-dasharray", dashDot);
      g.append("circle").attr("cx", x0 + 19).attr("cy", cy).attr("r", 4)
        .attr("fill", ratioColors[i]).attr("stroke", "#333").attr("stroke-width", 0.6);
      g.append("text").attr("x", col ? 288 : 155).attr("y", cy + 7.5).text(r);
    });
    return g.node();
  };
}

const fig = document.getElementById("figure");

panelSeries.forEach((seriesList, p) => {
  const seriesMarks = [];
  seriesList.forEach((values, i) => {
    const rows = temperatures.map((t, j) => ({T: t, alpha: values[j]}));
    seriesMarks.push(Plot.line(rows, {x: "T", y: "alpha", stroke: ratioColors[i], strokeWidth: 1.5, strokeDasharray: dashDot}));
    seriesMarks.push(Plot.dot(rows, {x: "T", y: "alpha", r: 4.2, fill: ratioColors[i], stroke: "#333", strokeWidth: 0.6}));
  });

  const chart = Plot.plot({
    width: W, height: H,
    marginTop: mTop, marginBottom: mBottom, marginLeft: mLeft, marginRight: mRight,
    style: {fontFamily: "DejaVu Sans", background: "transparent", overflow: "visible"},
    x: {domain: [350, 3050]},
    y: {domain: [2.3, 7.7]},
    marks: [
      Plot.ruleX(xMinorTicks, {x: d => d, stroke: "#e6e6e6", strokeWidth: 1}),
      Plot.ruleX(xMajorTicks, {x: d => d, stroke: "#cfcfcf", strokeWidth: 1}),
      Plot.ruleY(yTicks, {y: d => d, stroke: "#d8d8d8", strokeWidth: 1}),
      ...seriesMarks,
      Plot.tickX(xMinorTicks, {x: d => d, insetTop: frameH - 7, stroke: "#333", strokeWidth: 1.5}),
      Plot.tickX(xMajorTicks, {x: d => d, insetTop: frameH - 14, stroke: "#333", strokeWidth: 1.5}),
      Plot.tickY(yTicks, {y: d => d, insetRight: frameW - 14, stroke: "#333", strokeWidth: 1.5}),
      Plot.axisX({ticks: xMajorTicks, tickSize: 0, tickPadding: 6.5, tickFormat: d3.format("d"), fontSize: 20, fontWeight: "bold", fill: "#111", label: null}),
      Plot.axisY({ticks: yTicks, tickSize: 0, tickPadding: 5.5, tickFormat: d3.format("d"), fontSize: 20, fontWeight: "bold", fill: "#111", label: null}),
      Plot.frame({stroke: "#333", strokeWidth: 1.6}),
      legend(panelTitles[p])
    ]
  });
  chart.style.top = panelTops[p] + "px";
  fig.appendChild(chart);
});

// Shared axis titles
const titles = d3.create("svg").attr("width", W).attr("height", 1492)
  .style("position", "absolute").style("left", "0px").style("top", "0px")
  .attr("font-family", "DejaVu Sans").attr("font-weight", "bold").attr("fill", "#111");
titles.append("text").attr("x", 333).attr("y", 1483).attr("text-anchor", "middle").attr("font-size", 32).text("Temperature (K)");
const ylab = titles.append("text").attr("transform", "translate(43,712) rotate(-90)").attr("text-anchor", "middle").attr("font-size", 35.5);
ylab.append("tspan").text("General thermal expansion coefficient (10");
ylab.append("tspan").attr("font-size", 25).attr("dy", -14).text("\u22125");
ylab.append("tspan").attr("dy", 14).text("K");
ylab.append("tspan").attr("font-size", 25).attr("dy", -14).text("\u22121");
ylab.append("tspan").attr("dy", 14).text(")");
fig.appendChild(titles.node());
</script>
</body>
</html>
